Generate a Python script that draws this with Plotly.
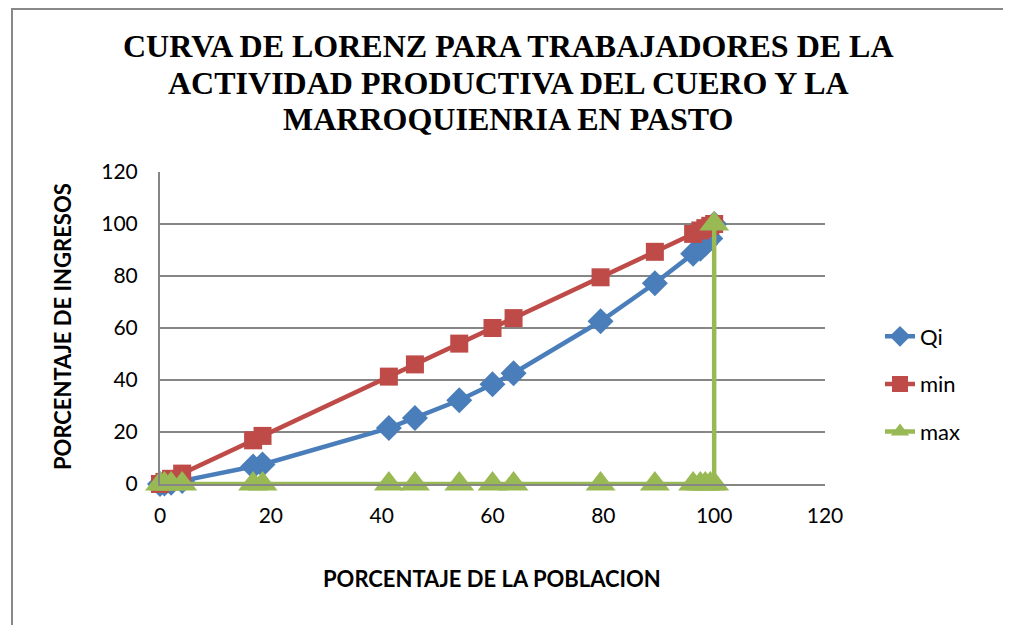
import plotly.graph_objects as go

# Data
poblacion = [0, 0.8, 2, 4, 16.8, 18.5, 41.3, 46, 54, 60, 63.8, 79.5, 89.3, 96.2, 97.5, 98.4, 99.3, 100]
qi = [0, 0.2, 0.5, 1.2, 6.7, 7.5, 21.5, 25.4, 32.2, 38.4, 42.6, 62.6, 77.2, 88.6, 90.5, 92.4, 94.4, 100]
minimo = [0, 0.8, 2, 4, 16.8, 18.5, 41.3, 46, 54, 60, 63.8, 79.5, 89.3, 96.2, 97.5, 98.4, 99.3, 100]
max_x = [0, 0.8, 2, 4, 16.8, 18.5, 41.3, 46, 54, 60, 63.8, 79.5, 89.3, 96.2, 97.5, 98.4, 99.3, 100, 100]
max_y = [0, 0, 0, 0, 0, 0, 0, 0, 0, 0, 0, 0, 0, 0, 0, 0, 0, 0, 100]

title_lines = [
    "CURVA DE LORENZ PARA TRABAJADORES DE LA",
    "ACTIVIDAD PRODUCTIVA DEL CUERO Y LA",
    "MARROQUIENRIA EN PASTO",
]
tick_vals = [0, 20, 40, 60, 80, 100, 120]

BLUE = "#4a7ebb"
RED = "#be4b48"
GREEN = "#98b954"
FONT = "Lato"

fig = go.Figure()
fig.add_trace(go.Scatter(
    x=poblacion, y=qi, name="Qi", mode="lines+markers", legendgroup="a",
    line=dict(color=BLUE, width=4.5), cliponaxis=False,
    marker=dict(symbol="diamond", size=20, color=BLUE),
))
fig.add_trace(go.Scatter(
    x=poblacion, y=minimo, name="min", mode="lines+markers", legendgroup="b",
    line=dict(color=RED, width=4.5), cliponaxis=False,
    marker=dict(symbol="square", size=18, color=RED),
))
fig.add_trace(go.Scatter(
    x=max_x, y=max_y, name="max", mode="lines+markers", legendgroup="c",
    line=dict(color=GREEN, width=4.5), cliponaxis=False,
    marker=dict(symbol="triangle-up", size=26, color=GREEN),
))

OFF = 8  # page offset of the figure inside the browser window
W, H = 1011, 625
L, R, T, B = 160 - OFF, W - (825 - OFF), 172 - OFF, H - (484 - OFF)
pw, ph = W - L - R, H - T - B


def px_x(p):
    return (p - OFF - L) / pw


def px_y(p):
    return (H - B - (p - OFF)) / ph


shapes = [dict(type="rect", xref="paper", yref="paper",
               x0=px_x(12), x1=px_x(1008), y0=px_y(660), y1=px_y(9),
               line=dict(color="#888888", width=2), fillcolor="rgba(0,0,0,0)", layer="below")]

annotations = []
for line, yc in zip(title_lines, [46, 83, 119]):
    annotations.append(dict(
        text=line, xref="paper", yref="paper", x=px_x(508), y=px_y(yc),
        xanchor="center", yanchor="middle", showarrow=False,
        font=dict(family="Liberation Serif", size=32, color="black", weight="bold"),
    ))
annotations.append(dict(
    text="<b>PORCENTAJE DE LA POBLACION</b>", xref="paper", yref="paper",
    x=px_x(492), y=px_y(578), xanchor="center", yanchor="middle", showarrow=False,
    font=dict(family=FONT, size=22, color="black"),
))
annotations.append(dict(
    text="<b>PORCENTAJE DE INGRESOS</b>", xref="paper", yref="paper",
    x=px_x(62), y=px_y(327), xanchor="center", yanchor="middle", showarrow=False,
    textangle=-90, font=dict(family=FONT, size=22, color="black"),
))

fig.update_layout(
    width=W, height=H,
    margin=dict(l=L, r=R, t=T, b=B, autoexpand=False),
    paper_bgcolor="white", plot_bgcolor="white",
    shapes=shapes, annotations=annotations,
    font=dict(family=FONT, size=22, color="black"),
    showlegend=True,
    legend=dict(x=px_x(880), y=px_y(384), xanchor="left", yanchor="middle",
                font=dict(family=FONT, size=22, color="black"),
                tracegroupgap=16, bgcolor="rgba(0,0,0,0)"),
    xaxis=dict(range=[0, 120], tickvals=tick_vals, showgrid=False, zeroline=False,
               showline=True, linecolor="#868686", linewidth=2, ticks="",
               tickfont=dict(family=FONT, size=21), ticklabelstandoff=12),
    yaxis=dict(range=[0, 120], tickvals=tick_vals, showgrid=True, gridcolor="#868686",
               gridwidth=1.5, zeroline=False, showline=True, linecolor="#868686",
               linewidth=2, ticks="", tickfont=dict(family=FONT, size=21),
               ticklabelstandoff=16),
)

fig.write_html("out.html")
